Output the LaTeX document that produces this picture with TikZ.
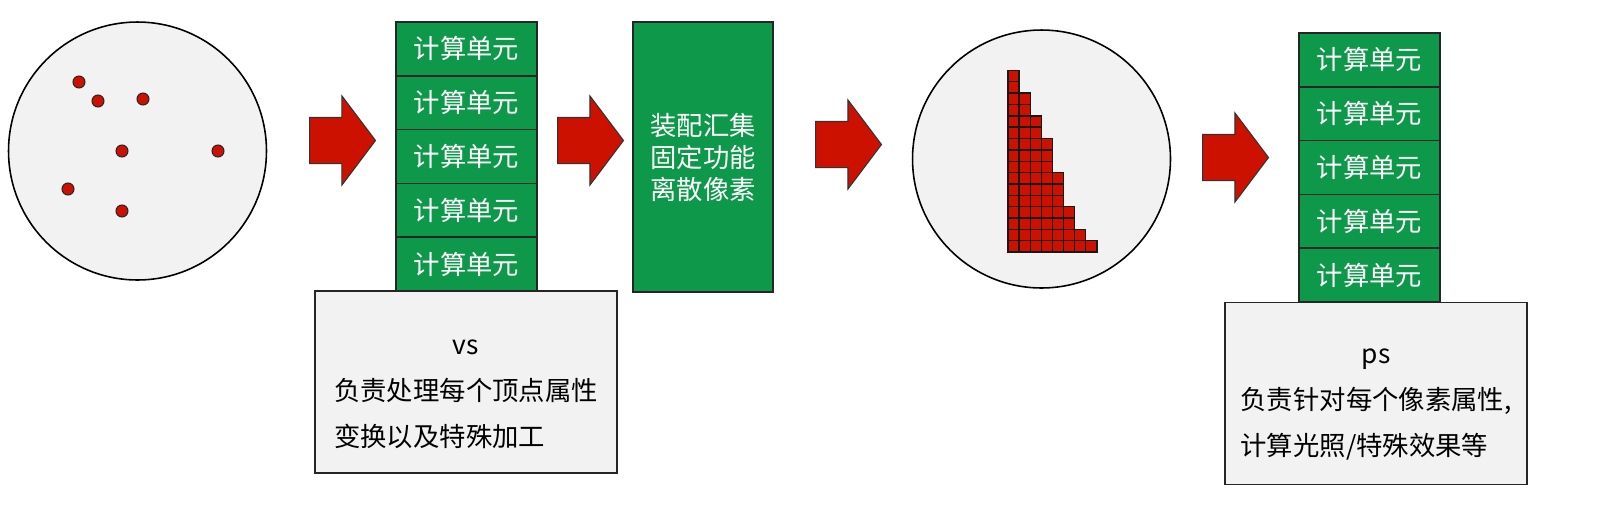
\documentclass[tikz,border=0pt]{standalone}
\usepackage{fontspec}
\setmainfont{Noto Sans CJK SC}
\usetikzlibrary{positioning,shapes.arrows}
\definecolor{unitgreen}{RGB}{14,152,74}
\definecolor{vtxred}{RGB}{204,17,0}
\definecolor{panelgray}{RGB}{242,242,242}
\tikzset{
  stage/.style={circle, draw, line width=0.9pt, fill=panelgray, minimum size=5.16cm, inner sep=0pt},
  unit/.style={draw=black!85, line width=0.9pt, fill=unitgreen, text=white, minimum width=2.82cm, minimum height=1.076cm, outer sep=0pt, inner sep=0pt, font=\fontsize{15pt}{18.2pt}\selectfont},
  fixed/.style={unit, minimum width=2.8cm, minimum height=5.4cm, align=center},
  note/.style={draw=black!85, line width=0.9pt, fill=panelgray, minimum width=6.04cm, minimum height=3.64cm, outer sep=0pt},
  notetext/.style={inner sep=0pt, font=\fontsize{15pt}{26.2pt}\selectfont},
  flow/.style={single arrow, anchor=tail, draw=black!80, line width=0.6pt, fill=vtxred, minimum height=1.32cm, minimum width=1.77cm, single arrow head extend=0.43cm, single arrow tip angle=106, inner xsep=0pt, inner ysep=0.45cm},
  vtx/.style={circle, draw=black!85, line width=0.6pt, fill=vtxred, minimum size=0.24cm, inner sep=0pt},
  frag/.style={draw=black!90, line width=0.8pt, fill=vtxred}
}
\begin{document}
\begin{tikzpicture}[x=0.02cm, y=-0.02cm]
\useasboundingbox (0,0) rectangle (1605,508);
% input vertices
\node[stage] (verts) at (137.5,151) {};
\foreach \px/\py [count=\i] in {79/82, 98/101, 143/99, 122/151, 218/151, 68/189, 122/211}
  \node[vtx] (v\i) at (\px,\py) {};
\node[flow] (a1) at (309,140.5) {};
% vertex shader
\node[unit] (vs1) at (466.5,48.9) {计算单元};
\foreach \i [remember=\i as \j (initially 1)] in {2,...,5}
  \node[unit, below=0pt of vs\j] (vs\i) {计算单元};
\node[note] (vsnote) at (466,382) {};
\node[notetext] (vstext) at (466,391) {\begin{tabular}{@{}l@{}}\multicolumn{1}{@{}c@{}}{vs}\\负责处理每个顶点属性\\变换以及特殊加工\end{tabular}};
\node[flow] (a2) at (557,140.5) {};
% fixed function stage
\node[fixed] (raster) at (703,157) {装配汇集\\固定功能\\离散像素};
\node[flow] (a3) at (815,144.5) {};
% rasterized fragments
\node[stage] (frags) at (1041.5,159) {};
\foreach \h [count=\c] in {16,14,12,10,7,4,2,1}
  \foreach \r in {1,...,\h}
    \draw[frag] ({1008+(\c-1)*11.1},{252-(\r-1)*11.35}) rectangle +(11.1,-11.35);
\node[flow] (a4) at (1202,157.5) {};
% pixel shader
\node[unit] (ps1) at (1369.5,59.9) {计算单元};
\foreach \i [remember=\i as \j (initially 1)] in {2,...,5}
  \node[unit, below=0pt of ps\j] (ps\i) {计算单元};
\node[note] (psnote) at (1376,393.5) {};
\node[notetext] (pstext) at (1376,400) {\begin{tabular}{@{}l@{}}\multicolumn{1}{@{}c@{}}{ps}\\负责针对每个像素属性,\\计算光照/特殊效果等\end{tabular}};
\end{tikzpicture}
\end{document}
